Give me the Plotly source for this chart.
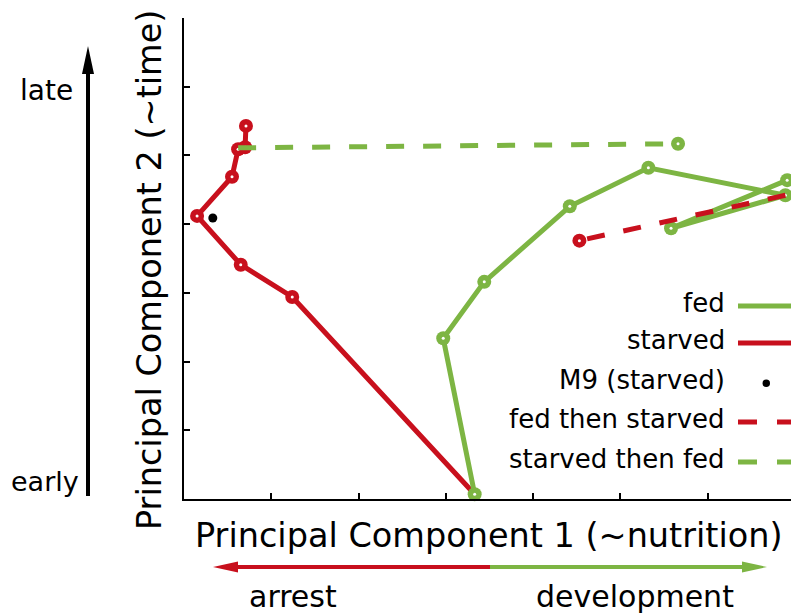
import plotly.graph_objects as go

# ---- data (axis units; both axes span 0..7 with unlabeled ticks) ----
fed_x = [3.33, 2.97, 3.44, 4.42, 5.32, 6.89, 5.58, 6.91]
fed_y = [0.07, 2.34, 3.16, 4.26, 4.82, 4.42, 3.94, 4.64]

starved_x = [3.33, 1.24, 0.65, 0.15, 0.55, 0.62, 0.70, 0.71]
starved_y = [0.07, 2.94, 3.41, 4.12, 4.69, 5.09, 5.12, 5.43]

m9_x = [0.33]
m9_y = [4.09]

fed_then_starved_x = [6.89, 4.53]
fed_then_starved_y = [4.42, 3.76]

starved_then_fed_x = [0.62, 5.66]
starved_then_fed_y = [5.11, 5.17]

legend_labels = ["fed", "starved", "M9 (starved)", "fed then starved", "starved then fed"]

GREEN = "#7db543"
RED = "#c8101d"
FONT = "DejaVu Sans"

# page shows the figure offset by the body margin
OFF = 8
W, H = 799 - OFF, 615 - OFF
L, R, T, B = 184 - OFF, 4, 18 - OFF, 116
PW, PH = W - L - R, H - T - B


def px(x):
    return (x - OFF - L) / PW


def py(y):
    return (H - B - (y - OFF)) / PH


fig = go.Figure()


def add_line(x, y, color, dash=None):
    fig.add_trace(go.Scatter(x=x, y=y, mode="lines",
                             line=dict(color=color, width=5, dash=dash),
                             showlegend=False, hoverinfo="skip", cliponaxis=False))


def add_markers(x, y, color):
    fig.add_trace(go.Scatter(x=x, y=y, mode="markers",
                             marker=dict(color=color, size=14, line=dict(width=0)),
                             showlegend=False, hoverinfo="skip", cliponaxis=False))
    fig.add_trace(go.Scatter(x=x, y=y, mode="markers",
                             marker=dict(color="white", size=3, line=dict(width=0)),
                             showlegend=False, hoverinfo="skip", cliponaxis=False))


# starved (red, solid)
add_line(starved_x, starved_y, RED)
add_markers(starved_x[1:], starved_y[1:], RED)
# fed (green, solid)
add_line(fed_x, fed_y, GREEN)
add_markers(fed_x, fed_y, GREEN)
# starved then fed (green dashed)
add_line(starved_then_fed_x, starved_then_fed_y, GREEN, dash="18px,19px")
add_markers(starved_then_fed_x[-1:], starved_then_fed_y[-1:], GREEN)
# fed then starved (red dashed)
add_line(fed_then_starved_x, fed_then_starved_y, RED, dash="18px,19px")
add_markers(fed_then_starved_x[-1:], fed_then_starved_y[-1:], RED)
# M9
fig.add_trace(go.Scatter(x=m9_x, y=m9_y, mode="markers",
                         marker=dict(color="black", size=9, line=dict(width=0)),
                         showlegend=False, hoverinfo="skip"))

shapes = []
annotations = []

# ---- custom legend (text right-aligned, sample to the right) ----
leg_y = [306, 343, 383, 422, 462]
leg_styles = [(GREEN, None), (RED, None), ("black", "dot"), (RED, "dash"), (GREEN, "dash")]
for lab, yy, (col, kind) in zip(legend_labels, leg_y, leg_styles):
    annotations.append(dict(x=px(727), y=py(yy - 3), xref="paper", yref="paper",
                            text=lab, showarrow=False, xanchor="right", yanchor="middle",
                            font=dict(family=FONT, size=26, color="black")))
    if kind == "dot":
        shapes.append(dict(type="circle", xref="paper", yref="paper",
                           x0=px(762.5), x1=px(770), y0=py(379.5), y1=py(387),
                           fillcolor="black", line=dict(width=0)))
    else:
        shapes.append(dict(type="line", xref="paper", yref="paper",
                           x0=px(738), x1=px(795), y0=py(yy), y1=py(yy),
                           line=dict(color=col, width=5,
                                     dash="19px,20px" if kind == "dash" else "solid")))

# ---- axis titles ----
annotations.append(dict(x=px(489), y=py(535), xref="paper", yref="paper",
                        text="Principal Component 1 (~nutrition)", showarrow=False,
                        xanchor="center", yanchor="middle",
                        font=dict(family=FONT, size=33.5, color="black")))
annotations.append(dict(x=px(149), y=py(270), xref="paper", yref="paper",
                        text="Principal Component 2 (~time)", showarrow=False,
                        textangle=-90, xanchor="center", yanchor="middle",
                        font=dict(family=FONT, size=33.5, color="black")))

# ---- vertical time arrow ----
shapes.append(dict(type="line", xref="paper", yref="paper",
                   x0=px(88), x1=px(88), y0=py(496), y1=py(70),
                   line=dict(color="black", width=4)))
shapes.append(dict(type="path", xref="paper", yref="paper",
                   path=f"M {px(88)} {py(46)} L {px(94)} {py(74)} L {px(82)} {py(74)} Z",
                   fillcolor="black", line=dict(width=0)))
annotations.append(dict(x=px(46), y=py(91), xref="paper", yref="paper", text="late",
                        showarrow=False, xanchor="center", yanchor="middle",
                        font=dict(family=FONT, size=28, color="black")))
annotations.append(dict(x=px(9), y=py(481), xref="paper", yref="paper", text="early",
                        showarrow=False, xanchor="left", yanchor="middle",
                        font=dict(family=FONT, size=27, color="black")))

# ---- horizontal arrest/development arrow ----
ay = 567
shapes.append(dict(type="line", xref="paper", yref="paper",
                   x0=px(230), x1=px(491), y0=py(ay), y1=py(ay),
                   line=dict(color=RED, width=4)))
shapes.append(dict(type="line", xref="paper", yref="paper",
                   x0=px(490), x1=px(750), y0=py(ay), y1=py(ay),
                   line=dict(color=GREEN, width=4)))
shapes.append(dict(type="path", xref="paper", yref="paper",
                   path=f"M {px(213)} {py(ay)} L {px(238)} {py(ay - 5.5)} L {px(238)} {py(ay + 5.5)} Z",
                   fillcolor=RED, line=dict(width=0)))
shapes.append(dict(type="path", xref="paper", yref="paper",
                   path=f"M {px(767)} {py(ay)} L {px(742)} {py(ay - 5.5)} L {px(742)} {py(ay + 5.5)} Z",
                   fillcolor=GREEN, line=dict(width=0)))
annotations.append(dict(x=px(293), y=py(596), xref="paper", yref="paper", text="arrest",
                        showarrow=False, xanchor="center", yanchor="middle",
                        font=dict(family=FONT, size=30, color="black")))
annotations.append(dict(x=px(635), y=py(596), xref="paper", yref="paper", text="development",
                        showarrow=False, xanchor="center", yanchor="middle",
                        font=dict(family=FONT, size=30, color="black")))

axis_common = dict(range=[0, 7], tickmode="array", tickvals=list(range(8)),
                   ticks="inside", ticklen=6, tickwidth=1.5, tickcolor="black",
                   showticklabels=False, showgrid=False, zeroline=False,
                   showline=True, linecolor="black", linewidth=2, mirror=False,
                   fixedrange=True)

fig.update_layout(
    width=W, height=H,
    margin=dict(l=L, r=R, t=T, b=B, pad=0),
    plot_bgcolor="white", paper_bgcolor="white",
    xaxis=axis_common, yaxis=axis_common,
    shapes=shapes, annotations=annotations,
    showlegend=False,
)

fig.write_html("out.html")
